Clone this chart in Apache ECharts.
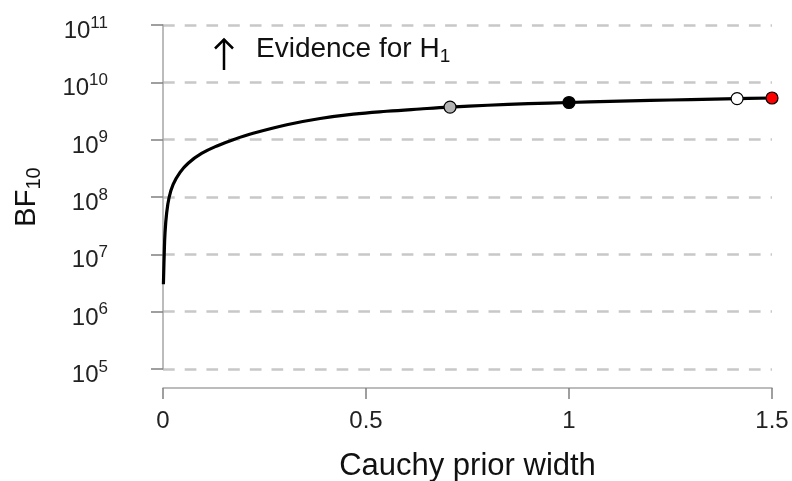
<!DOCTYPE html>
<html>
<head>
    <meta charset="utf-8">
    <title>BF robustness</title>
    <script src="https://cdn.jsdelivr.net/npm/echarts@6/dist/echarts.min.js"></script>
    <style>
        html, body { margin: 0; padding: 0; background: #fff; }
        #main { width: 792px; height: 481px; }
    </style>
</head>
<body>
<div id="main"></div>
<script type="text/javascript">

// curve: Cauchy prior width vs BF10
var priorWidth = [0.001, 0.003, 0.005, 0.009, 0.015, 0.025, 0.042, 0.062, 0.095, 0.136,
                  0.173, 0.222, 0.305, 0.387, 0.469, 0.551, 0.633, 0.707, 0.8, 0.9,
                  1.0, 1.1, 1.2, 1.3, 1.414, 1.5];
var bf10 = [3.0e6, 1.0e7, 2.4e7, 5.25e7, 9.8e7, 1.66e8, 2.69e8, 3.89e8, 5.75e8, 7.94e8,
            1.0e9, 1.29e9, 1.82e9, 2.34e9, 2.79e9, 3.13e9, 3.43e9, 3.70e9, 3.98e9, 4.24e9,
            4.45e9, 4.65e9, 4.83e9, 5.01e9, 5.20e9, 5.33e9];

// highlighted priors (user, default, wide, max)
var pointWidth = [0.707, 1, 1.414, 1.5];
var pointBF = [3.70e9, 4.45e9, 5.20e9, 5.33e9];
var pointFill = ['#b3b3b3', '#000000', '#ffffff', '#ff0000'];

var xTicks = ['0', '0.5', '1', '1.5'];

var FONT = '"Liberation Sans", Arial, sans-serif';

var myChart = echarts.init(document.getElementById('main'));

var curve = priorWidth.map(function (r, i) { return [r, bf10[i]]; });
var points = pointWidth.map(function (r, i) {
    return { value: [r, pointBF[i]], itemStyle: { color: pointFill[i] } };
});

option = {
    animation: false,
    grid: { left: 163, right: 20, top: 25, bottom: 112, outerBoundsMode: 'none' },
    xAxis: {
        type: 'value',
        min: 0,
        max: 1.5,
        interval: 0.5,
        offset: 19,
        name: 'Cauchy prior width',
        nameLocation: 'middle',
        nameGap: 63,
        nameTextStyle: { fontFamily: FONT, fontSize: 31, color: '#111' },
        axisLine: { lineStyle: { color: '#a6a6a6', width: 1.5 } },
        axisTick: { length: 11, lineStyle: { color: '#808080', width: 1.5 } },
        axisLabel: {
            margin: 21,
            fontFamily: FONT,
            fontSize: 24,
            color: '#222',
            formatter: function (v) { return xTicks[Math.round(v / 0.5)]; }
        },
        splitLine: { show: false }
    },
    yAxis: {
        type: 'log',
        logBase: 10,
        min: 1e5,
        max: 1e11,
        splitNumber: 6,
        offset: 30,
        name: '{a|BF}{s|10}',
        nameLocation: 'middle',
        nameRotate: 90,
        nameGap: 89,
        nameTextStyle: {
            rich: {
                a: { fontFamily: FONT, fontSize: 29, color: '#111', lineHeight: 34 },
                s: { fontFamily: FONT, fontSize: 20, color: '#111', lineHeight: 20, verticalAlign: 'bottom' }
            }
        },
        axisLine: { show: true, lineStyle: { color: '#a6a6a6', width: 1.5 } },
        axisTick: { show: true, length: 12, lineStyle: { color: '#808080', width: 1.5 } },
        axisLabel: {
            margin: 25,
            padding: [13, 0, 0, 0],
            formatter: function (v) {
                return '{b|10}{e|' + Math.round(Math.log10(v)) + '}';
            },
            rich: {
                b: { fontFamily: FONT, fontSize: 24, color: '#222', lineHeight: 34 },
                e: { fontFamily: FONT, fontSize: 17, color: '#222', lineHeight: 17, verticalAlign: 'top' }
            }
        },
        splitLine: {
            show: true,
            lineStyle: { color: '#c8c8c8', width: 2.5, type: [11.7, 10] }
        }
    },
    graphic: [{
        type: 'group',
        children: [{
            type: 'line',
            shape: { x1: 224, y1: 70, x2: 224, y2: 39 },
            style: { stroke: '#000', lineWidth: 2.5 }
        }, {
            type: 'polyline',
            shape: { points: [[215, 48.5], [224, 39.5], [233, 48.5]] },
            style: { stroke: '#000', lineWidth: 2.5, fill: null }
        }]
    }, {
        type: 'text',
        left: 256,
        top: 35,
        style: {
            text: '{t|Evidence for H}{s|1}',
            rich: {
                t: { fontFamily: FONT, fontSize: 28, fill: '#111', lineHeight: 34 },
                s: { fontFamily: FONT, fontSize: 19, fill: '#111', lineHeight: 19, verticalAlign: 'bottom' }
            }
        }
    }],
    series: [{
        type: 'line',
        data: curve,
        showSymbol: false,
        smooth: 0.4,
        lineStyle: { color: '#000', width: 3.2 },
        z: 3
    }, {
        type: 'scatter',
        data: points,
        symbolSize: 12,
        itemStyle: { borderColor: '#000', borderWidth: 1.2, opacity: 1 },
        z: 4
    }]
};

myChart.setOption(option);
</script>
</body>
</html>
